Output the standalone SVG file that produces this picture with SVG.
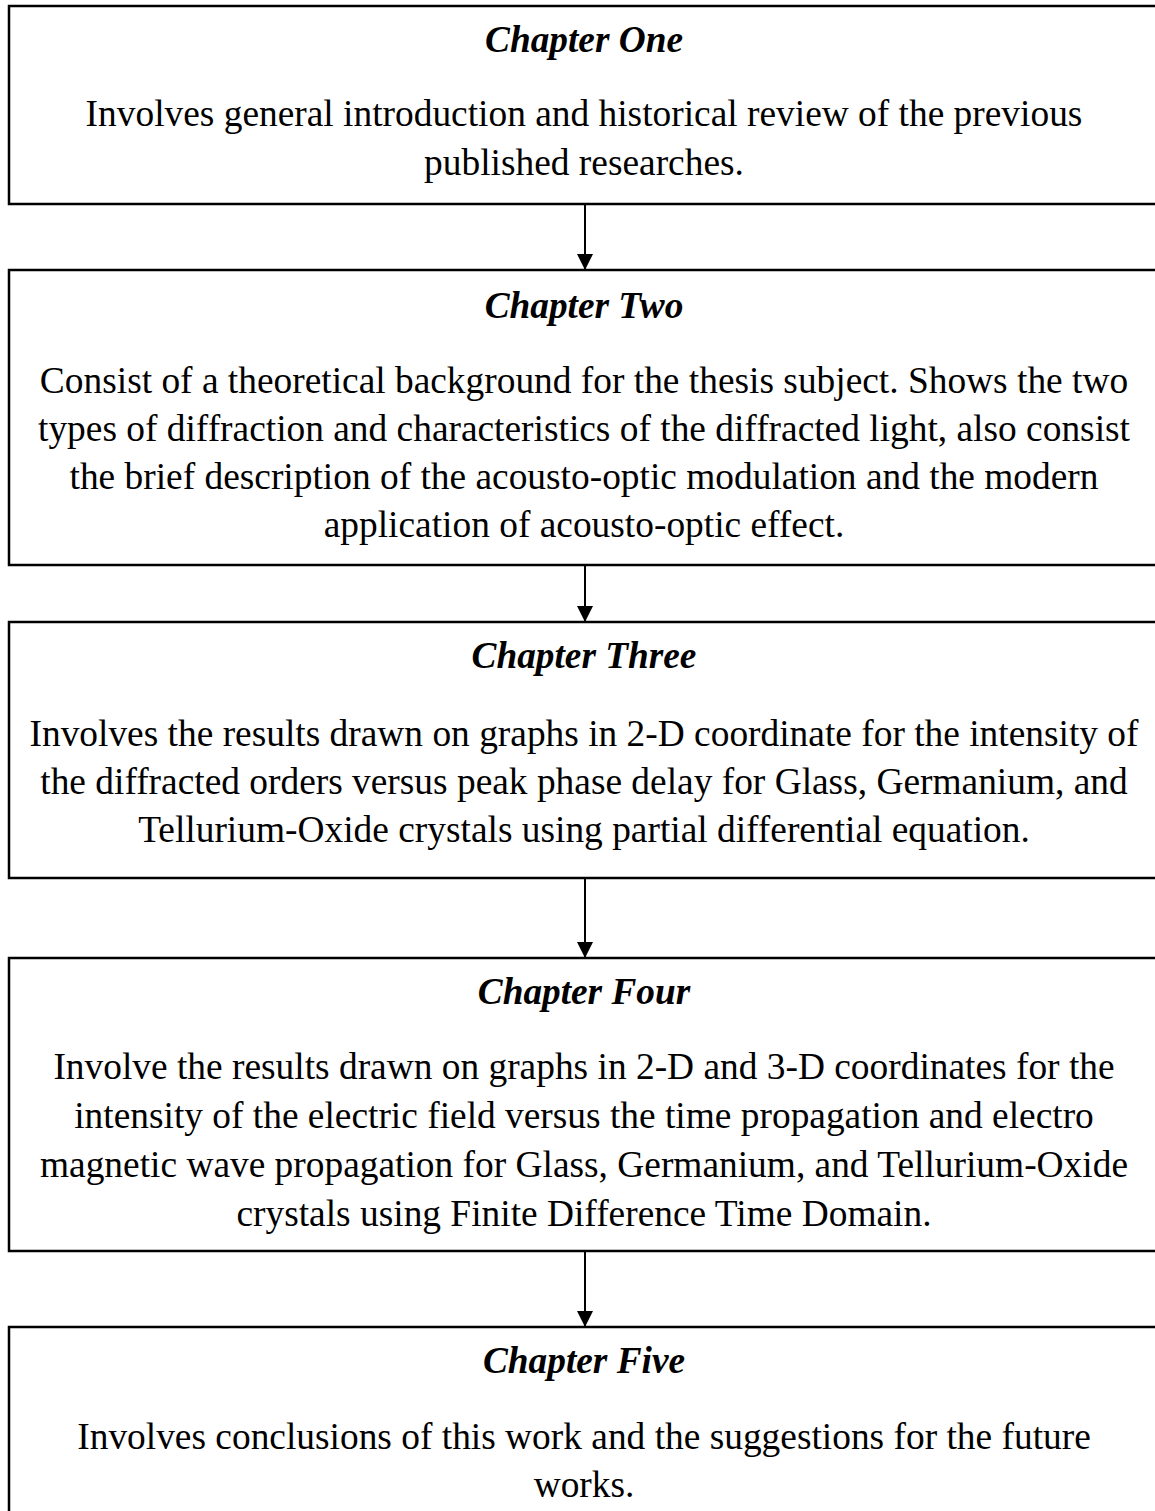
<svg xmlns="http://www.w3.org/2000/svg" width="1155" height="1511" viewBox="0 0 1155 1511">
<defs>
<style>
.box{fill:#fff;stroke:#000;stroke-width:2.5}
.h{font-family:"Liberation Serif","Times New Roman",serif;font-size:37.3px;font-weight:bold;font-style:italic;text-anchor:middle;fill:#000}
.t{font-family:"Liberation Serif","Times New Roman",serif;font-size:37.4px;text-anchor:middle;fill:#000}
.c{stroke:#000;stroke-width:2;fill:none}
</style>
<marker id="arr" markerWidth="16" markerHeight="16" refX="16" refY="8" orient="auto" markerUnits="userSpaceOnUse">
<path d="M0,0 L16,8 L0,16 Z" fill="#000"/>
</marker>
</defs>
<rect width="1155" height="1511" fill="#fff"/>
<g id="connectors">
<line class="c" x1="585" y1="205" x2="585" y2="270" marker-end="url(#arr)"/>
<line class="c" x1="585" y1="566" x2="585" y2="622" marker-end="url(#arr)"/>
<line class="c" x1="585" y1="879" x2="585" y2="958" marker-end="url(#arr)"/>
<line class="c" x1="585" y1="1252" x2="585" y2="1327" marker-end="url(#arr)"/>
</g>
<g id="chapter1">
<rect class="box" x="9" y="6" width="1160" height="198"/>
<text class="h" x="584" y="52">Chapter One</text>
<text class="t" x="584" y="126">Involves general introduction and historical review of the previous</text>
<text class="t" x="584" y="175">published researches.</text>
</g>
<g id="chapter2">
<rect class="box" x="9" y="270" width="1160" height="295"/>
<text class="h" x="584" y="318">Chapter Two</text>
<text class="t" x="584" y="393">Consist of a theoretical background for the thesis subject. Shows the two</text>
<text class="t" x="584" y="441">types of diffraction and characteristics of the diffracted light, also consist</text>
<text class="t" x="584" y="489">the brief description of the acousto-optic modulation and the modern</text>
<text class="t" x="584" y="537">application of acousto-optic effect.</text>
</g>
<g id="chapter3">
<rect class="box" x="9" y="622" width="1160" height="256"/>
<text class="h" x="584" y="668">Chapter Three</text>
<text class="t" x="584" y="746">Involves the results drawn on graphs in 2-D coordinate for the intensity of</text>
<text class="t" x="584" y="794">the diffracted orders versus peak phase delay for Glass, Germanium, and</text>
<text class="t" x="584" y="842">Tellurium-Oxide crystals using partial differential equation.</text>
</g>
<g id="chapter4">
<rect class="box" x="9" y="958" width="1160" height="293"/>
<text class="h" x="584" y="1004">Chapter Four</text>
<text class="t" x="584" y="1079">Involve the results drawn on graphs in 2-D and 3-D coordinates for the</text>
<text class="t" x="584" y="1128">intensity of the electric field versus the time propagation and electro</text>
<text class="t" x="584" y="1177">magnetic wave propagation for Glass, Germanium, and Tellurium-Oxide</text>
<text class="t" x="584" y="1226">crystals using Finite Difference Time Domain.</text>
</g>
<g id="chapter5">
<rect class="box" x="9" y="1327" width="1160" height="200"/>
<text class="h" x="584" y="1373">Chapter Five</text>
<text class="t" x="584" y="1449">Involves conclusions of this work and the suggestions for the future</text>
<text class="t" x="584" y="1497">works.</text>
</g>
</svg>
